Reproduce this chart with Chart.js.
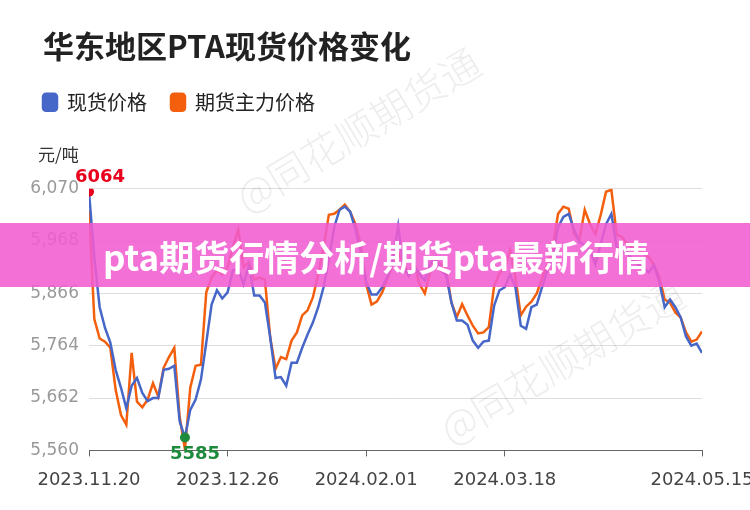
<!DOCTYPE html>
<html>
<head>
<meta charset="utf-8">
<script src="https://cdn.jsdelivr.net/npm/chart.js@4.4.1/dist/chart.umd.min.js"></script>
<style>
    html, body { margin: 0; padding: 0; background: #fff; }
</style>
</head>
<body>
<canvas id="chartPta" width="750" height="510"></canvas>
<script>
// 横轴刻度 (交易日序号 -> 日期)
const tickLabels = ["2023.11.20", "2023.12.26", "2024.02.01", "2024.03.18", "2024.05.15"];
const tickIndex = [0, 26, 52, 78, 115];
const yTicks = [5560, 5662, 5764, 5866, 5968, 6070];

// 现货价格 (元/吨)
const spotPrice = [
    6064, 5935, 5839, 5799, 5770, 5717, 5682, 5642, 5686, 5701,
    5672, 5656, 5662, 5662, 5717, 5719, 5725, 5617, 5585, 5639,
    5659, 5698, 5770, 5844, 5872, 5856, 5868, 5911, 5913, 5884,
    5920, 5862, 5862, 5848, 5780, 5701, 5703, 5686, 5731, 5731,
    5760, 5786, 5809, 5839, 5878, 5931, 5995, 6029, 6035, 6025,
    5990, 5946, 5888, 5864, 5864, 5878, 5899, 5931, 5997, 5917,
    5900, 5920, 5903, 5891, 5923, 5937, 5911, 5901, 5848, 5813,
    5813, 5805, 5774, 5760, 5772, 5774, 5842, 5872, 5878, 5903,
    5878, 5803, 5797, 5839, 5844, 5878, 5911, 5937, 5995, 6015,
    6021, 5990, 5966, 5960, 5950, 5923, 5962, 6001, 6021, 5956,
    5950, 5946, 5931, 5923, 5917, 5907, 5921, 5888, 5839, 5854,
    5839, 5819, 5782, 5764, 5768, 5750
];

// 期货主力价格 (元/吨)
const futuresPrice = [
    6028, 5816, 5778, 5772, 5760, 5678, 5629, 5610, 5750, 5655,
    5644, 5659, 5691, 5665, 5721, 5742, 5760, 5626, 5562, 5682,
    5725, 5727, 5868, 5897, 5911, 5903, 5917, 5956, 5990, 5917,
    5927, 5893, 5897, 5893, 5780, 5719, 5742, 5738, 5774, 5790,
    5823, 5833, 5858, 5903, 5956, 6019, 6021, 6029, 6039, 6025,
    6001, 5960, 5884, 5844, 5850, 5868, 5895, 5923, 5946, 5923,
    5905, 5925, 5884, 5866, 5907, 5931, 5923, 5911, 5848, 5820,
    5845, 5823, 5803, 5788, 5790, 5800, 5880, 5905, 5915, 5950,
    5897, 5823, 5840, 5850, 5866, 5895, 5923, 5956, 6021, 6035,
    6031, 5982, 5970, 6029, 6001, 5982, 6019, 6064, 6068, 5980,
    5976, 5962, 5954, 5950, 5944, 5937, 5921, 5897, 5854, 5848,
    5829, 5819, 5790, 5772, 5776, 5792
];

const maxIdx = spotPrice.indexOf(Math.max(...spotPrice));
const minIdx = spotPrice.indexOf(Math.min(...spotPrice));
const CJK = "'Noto Sans CJK SC', sans-serif";

// 水印、最高/最低标注、横幅
const decorations = {
    id: "decorations",
    afterInit(chart) {
        // 标题右移, 图例左移 + 图例与绘图区之间留白
        const title = chart.titleBlock;
        const titleDraw = title.draw;
        title.draw = function () {
            this.ctx.save();
            this.ctx.translate(13, 0);
            titleDraw.call(this);
            this.ctx.restore();
        };
        const legend = chart.legend;
        const fit = legend.fit;
        legend.fit = function () {
            fit.call(this);
            this.height += 66.5;
        };
        const draw = legend.draw;
        legend.draw = function () {
            this.ctx.save();
            this.ctx.translate(-11, 0);
            draw.call(this);
            this.ctx.restore();
        };
    },
    beforeDatasetsDraw(chart) {
        const ctx = chart.ctx;
        ctx.save();
        ctx.fillStyle = "rgba(0,0,0,0.07)";
        ctx.font = "300 40px " + CJK;
        ctx.textAlign = "center";
        ctx.textBaseline = "middle";
        [[358, 130], [562, 362]].forEach(function (p) {
            ctx.save();
            ctx.translate(p[0], p[1]);
            ctx.rotate(-0.54);
            ctx.fillText("@同花顺期货通", 0, 0);
            ctx.restore();
        });
        ctx.restore();
    },
    afterDatasetsDraw(chart) {
        const ctx = chart.ctx;
        const x = chart.scales.x, y = chart.scales.y;
        ctx.save();
        ctx.font = "bold 18px 'DejaVu Sans'";
        ctx.textAlign = "center";
        ctx.textBaseline = "middle";
        ctx.fillStyle = "#e8001c";
        ctx.fillText(String(spotPrice[maxIdx]), x.getPixelForValue(maxIdx) + 11, y.getPixelForValue(spotPrice[maxIdx]) - 14);
        ctx.fillStyle = "#1e8a3c";
        ctx.fillText(String(spotPrice[minIdx]), x.getPixelForValue(minIdx) + 10, y.getPixelForValue(spotPrice[minIdx]) + 17);
        ctx.restore();
    },
    afterDraw(chart) {
        const ctx = chart.ctx;
        ctx.save();
        ctx.fillStyle = "#333";
        ctx.font = "17px " + CJK;
        ctx.textAlign = "left";
        ctx.textBaseline = "middle";
        ctx.fillText("元/吨", 38, 155);

        ctx.fillStyle = "rgba(241, 92, 208, 0.88)";
        ctx.fillRect(0, 223, 750, 64);
        ctx.fillStyle = "#fff";
        ctx.font = "bold 35px " + CJK;
        ctx.textAlign = "center";
        ctx.fillText("pta期货行情分析/期货pta最新行情", 376, 258);
        ctx.restore();
    },
};

new Chart(document.getElementById("chartPta"), {
    type: "line",
    data: {
        datasets: [
            {
                label: "现货价格",
                data: spotPrice.map((v, i) => ({ x: i, y: v })),
                borderColor: "#4767c8",
                backgroundColor: "#4767c8",
                borderWidth: 2.5,
                pointRadius: (ctx) => (ctx.dataIndex === maxIdx || ctx.dataIndex === minIdx ? 5 : 0),
                pointBackgroundColor: (ctx) => (ctx.dataIndex === maxIdx ? "#e8001c" : "#1e8a3c"),
                pointBorderWidth: 0,
                tension: 0,
            },
            {
                label: "期货主力价格",
                data: futuresPrice.map((v, i) => ({ x: i, y: v })),
                borderColor: "#f45f0e",
                backgroundColor: "#f45f0e",
                borderWidth: 2.5,
                pointRadius: 0,
                tension: 0,
            },
        ],
    },
    options: {
        responsive: false,
        animation: false,
        events: [],
        layout: { padding: { left: 30, right: 48, top: 0, bottom: 6 } },
        scales: {
            x: {
                type: "linear",
                min: 0,
                max: spotPrice.length - 1,
                afterBuildTicks: (scale) => {
                    scale.ticks = tickIndex.map((v) => ({ value: v }));
                },
                afterFit: (scale) => {
                    scale.paddingLeft = 0;
                    scale.paddingRight = 0;
                },
                ticks: {
                    callback: (v, i) => tickLabels[i],
                    color: "#444",
                    font: { size: 18, family: "'DejaVu Sans'" },
                    padding: 13,
                    maxRotation: 0,
                    autoSkip: false,
                },
                grid: { drawOnChartArea: false, tickLength: 6, tickColor: "#666" },
                border: { color: "#666", width: 1 },
            },
            y: {
                min: 5560,
                max: 6070,
                afterBuildTicks: (scale) => {
                    scale.ticks = yTicks.map((v) => ({ value: v }));
                },
                afterFit: (scale) => {
                    scale.width = 59;
                },
                ticks: {
                    color: "#999",
                    font: { size: 17, family: "'DejaVu Sans'" },
                    padding: 10,
                    callback: (v) => v.toLocaleString("en-US"),
                },
                grid: { color: "#dedede", drawTicks: false },
                border: { display: false },
            },
        },
        plugins: {
            title: {
                display: true,
                text: "华东地区PTA现货价格变化",
                align: "start",
                color: "#222",
                font: { size: 31, weight: "bold", family: CJK },
                padding: { top: 28, bottom: 3 },
            },
            legend: {
                position: "top",
                align: "start",
                labels: {
                    boxWidth: 14,
                    boxHeight: 17,
                    useBorderRadius: true,
                    borderRadius: 3,
                    padding: 24,
                    color: "#222",
                    font: { size: 20, family: CJK },
                },
            },
            tooltip: { enabled: false },
        },
    },
    plugins: [decorations],
});
</script>
</body>
</html>
